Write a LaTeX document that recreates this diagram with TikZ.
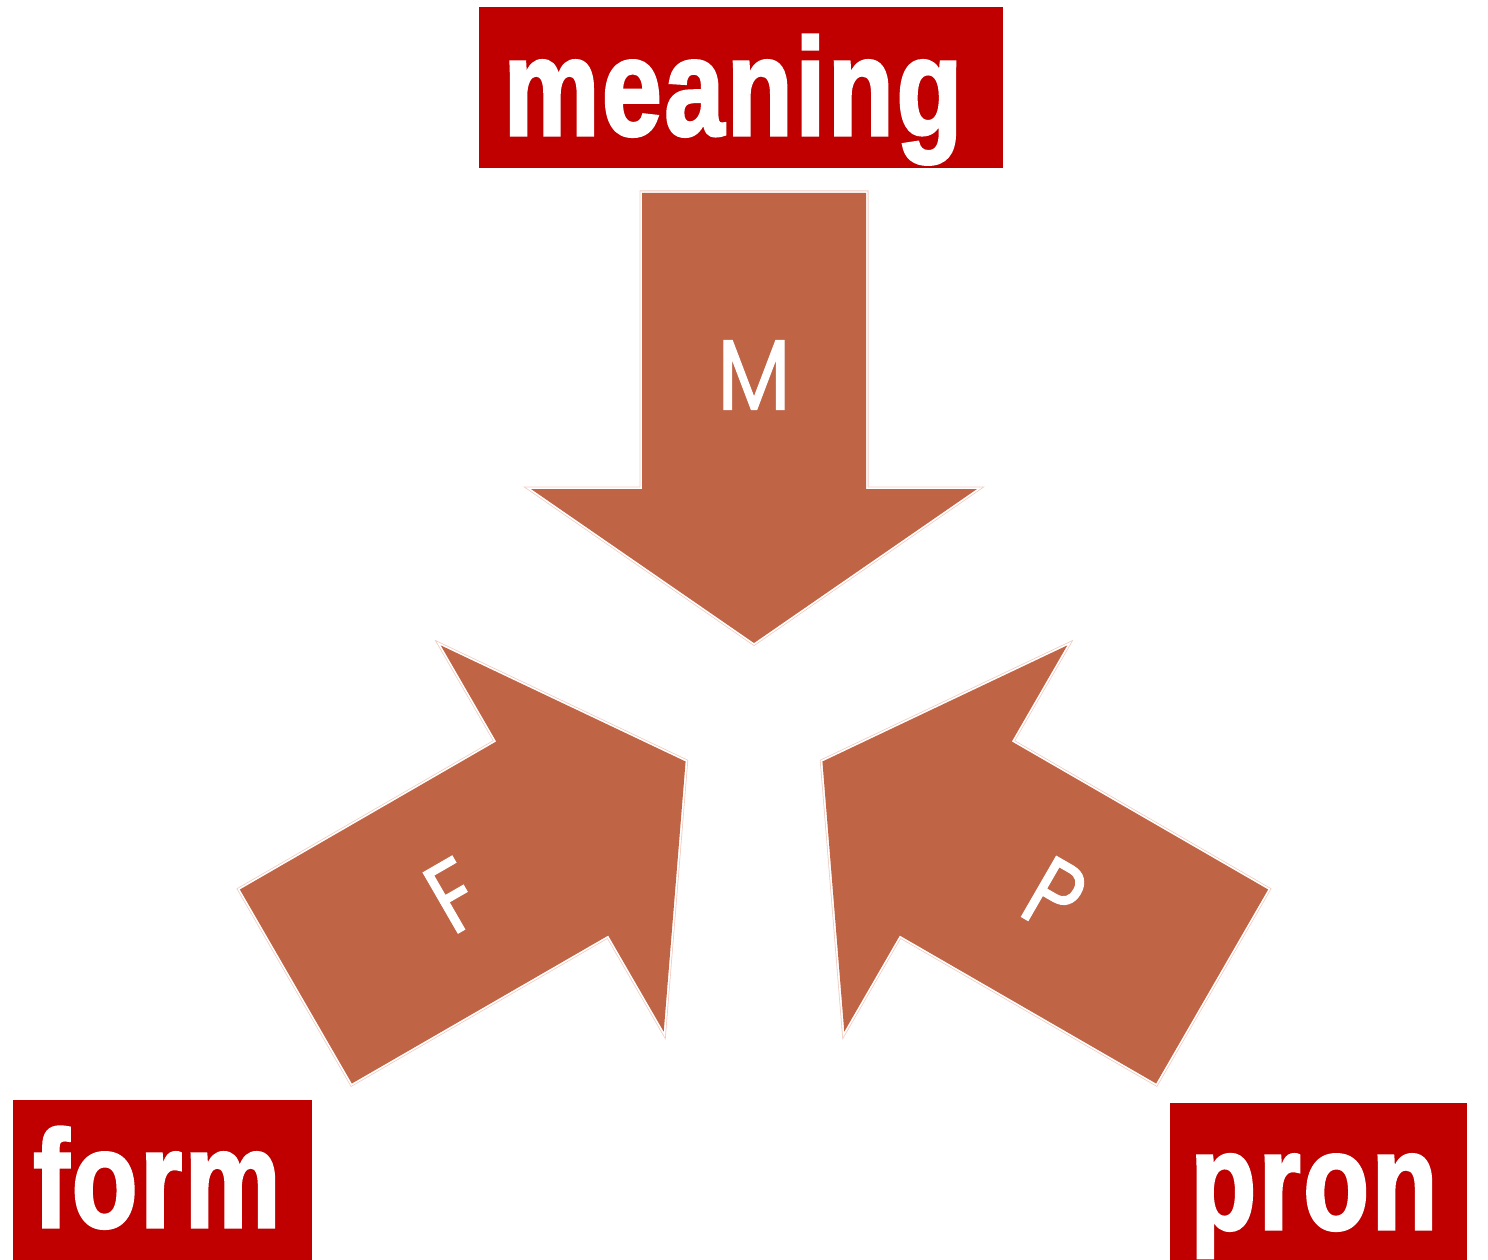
\documentclass[tikz,border=0pt]{standalone}
\usepackage{fontspec}
\newfontfamily\labelfont{Liberation Sans}[BoldFeatures={FakeBold=2.5}, LetterSpace=2.5]
\newfontfamily\letterfont{Poppins}[FakeBold=1.2]
\definecolor{arrowfill}{RGB}{192,100,70}
\definecolor{boxred}{RGB}{192,0,0}
\definecolor{edgepink}{RGB}{240,205,195}
\newcommand{\boxtext}[1]{\scalebox{0.78}[1]{\labelfont\bfseries\fontsize{138}{138}\selectfont #1}}

\begin{document}
\begin{tikzpicture}[
    x=1pt, y=-1pt,
    bigarrow/.style={
        fill=arrowfill,
        preaction={draw=edgepink, line width=5},
        preaction={draw=white, line width=3.4}
    },
    letter/.style={
        text=white,
        inner sep=0,
        font={\letterfont\fontsize{100}{100}\selectfont}
    },
    boxlabel/.style={
        text=white,
        anchor=base,
        inner sep=0
    }
]
\useasboundingbox (0,0) rectangle (1488,1260);

% centre the three arrows point at
\coordinate (C) at (754,722);

% arrows
\foreach \ang/\name/\txt/\rot in {0/m/M/0, 120/f/F/30, -120/p/P/-30}{
    \begin{scope}[shift={(C)}, rotate=\ang]
        \path[bigarrow] (0,-79) -- (223,-233) -- (112,-233) -- (112,-529)
            -- (-112,-529) -- (-112,-233) -- (-223,-233) -- cycle;
        \node[letter, rotate=\rot] (\name) at (0,-347) {\scalebox{0.85}[1]{\txt}};
    \end{scope}
}

% labels
\fill[boxred] (479,7) rectangle (1003,168);
\node[boxlabel] (meaning) at (733,135) {\boxtext{meaning}};
\fill[boxred] (13,1100) rectangle (312,1260);
\node[boxlabel] (form) at (157,1227) {\boxtext{form}};
\fill[boxred] (1170,1103) rectangle (1467,1260);
\node[boxlabel] (pron) at (1314,1229) {\boxtext{pron}};
\end{tikzpicture}
\end{document}
